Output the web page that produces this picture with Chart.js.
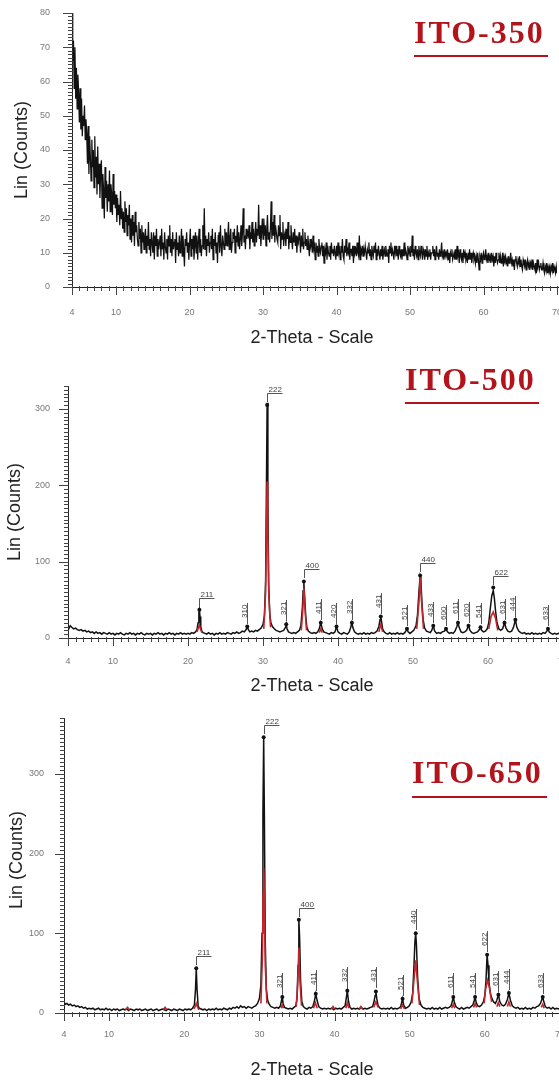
<!DOCTYPE html>
<html>
<head>
<meta charset="utf-8">
<script src="https://cdn.jsdelivr.net/npm/chart.js@4.4.0/dist/chart.umd.min.js"></script>
<style>
  html, body { margin: 0; padding: 0; background: #fff; overflow: hidden; }
  body { width: 559px; height: 1086px; position: relative; }
  canvas { position: absolute; left: 0; }
</style>
</head>
<body>
<canvas id="c350" width="580" height="350" style="top:0px"></canvas>
<canvas id="c500" width="580" height="350" style="top:350px"></canvas>
<canvas id="c650" width="580" height="386" style="top:700px"></canvas>
<script>
// 2-Theta tick labels (same for the three patterns)
const thetaTicks = [4, 10, 20, 30, 40, 50, 60, 70];

// ITO-350 : amorphous film, counts read every 0.1 deg from 4 to 70 (one row per degree)
const ito350Start = 4;
const ito350Step = 0.1;
const ito350Counts = [
  80, 66, 72, 58, 70, 55, 64, 52, 62, 57,
  48, 58, 46, 55, 44, 50, 47, 53, 43, 49,
  45, 36, 47, 33, 44, 38, 31, 43, 35, 40,
  29, 44, 32, 38, 27, 41, 30, 36, 26, 34,
  37, 23, 33, 28, 20, 35, 26, 31, 22, 30,
  25, 34, 22, 30, 27, 21, 33, 24, 28, 23,
  27, 19, 26, 21, 24, 18, 28, 20, 23, 17,
  22, 16, 25, 19, 23, 15, 21, 18, 24, 14,
  20, 13, 21, 15, 19, 12, 22, 16, 18, 14,
  12, 19, 14, 17, 10, 18, 13, 16, 11, 15,
  17, 10, 15, 12, 19, 11, 14, 9, 16, 13,
  10, 16, 8, 15, 12, 17, 9, 14, 11, 13,
  15, 9, 17, 11, 13, 8, 16, 12, 10, 14,
  8, 15, 12, 18, 10, 14, 9, 16, 11, 13,
  14, 7, 16, 11, 13, 9, 15, 10, 12, 17,
  9, 15, 11, 6, 14, 12, 16, 10, 13, 8,
  13, 17, 9, 14, 11, 15, 8, 12, 16, 10,
  15, 8, 13, 17, 10, 14, 9, 12, 18, 11,
  23, 11, 15, 9, 14, 12, 16, 10, 13, 15,
  11, 17, 8, 14, 12, 16, 10, 13, 7, 15,
  16, 10, 18, 12, 9, 15, 13, 11, 17, 12,
  16, 12, 15, 19, 11, 14, 17, 10, 13, 16,
  14, 17, 10, 15, 13, 18, 12, 16, 11, 14,
  18, 12, 16, 23, 13, 15, 11, 17, 14, 16,
  15, 18, 11, 16, 14, 19, 13, 17, 12, 15,
  19, 13, 17, 15, 24, 14, 18, 12, 16, 20,
  14, 20, 15, 18, 12, 17, 21, 14, 16, 13,
  17, 25, 14, 19, 15, 21, 13, 18, 16, 14,
  13, 18, 15, 21, 11, 16, 14, 19, 12, 15,
  16, 12, 17, 14, 19, 11, 15, 13, 18, 14,
  11, 16, 13, 17, 12, 15, 10, 14, 13, 16,
  14, 10, 15, 12, 17, 11, 13, 16, 12, 14,
  11, 15, 12, 9, 14, 12, 13, 10, 15, 11,
  12, 8, 13, 10, 12, 9, 14, 11, 10, 12,
  13, 9, 12, 7, 11, 10, 13, 8, 12, 10,
  9, 12, 8, 13, 10, 11, 9, 12, 10, 8,
  12, 9, 13, 10, 11, 8, 12, 10, 14, 9,
  8, 12, 10, 14, 9, 11, 10, 13, 8, 11,
  11, 9, 12, 7, 12, 10, 11, 9, 13, 10,
  9, 15, 8, 11, 10, 12, 9, 11, 10, 12,
  12, 8, 11, 10, 13, 9, 11, 8, 12, 10,
  9, 12, 10, 13, 8, 11, 9, 12, 10, 8,
  11, 9, 12, 8, 10, 11, 9, 12, 10, 9,
  11, 7, 12, 10, 13, 9, 11, 10, 8, 12,
  10, 12, 9, 11, 8, 12, 10, 9, 11, 8,
  11, 9, 13, 9, 11, 10, 8, 12, 10, 11,
  9, 12, 10, 15, 9, 11, 8, 12, 10, 9,
  11, 8, 12, 10, 9, 12, 10, 8, 11, 10,
  8, 11, 9, 12, 8, 10, 9, 11, 8, 10,
  10, 12, 9, 11, 8, 10, 12, 9, 10, 8,
  11, 9, 10, 13, 9, 10, 8, 11, 9, 10,
  9, 11, 8, 10, 7, 10, 9, 11, 8, 9,
  10, 8, 11, 8, 12, 9, 10, 7, 11, 9,
  8, 10, 7, 11, 9, 10, 8, 9, 7, 10,
  8, 11, 8, 10, 7, 9, 10, 8, 9, 7,
  9, 7, 10, 8, 5, 9, 8, 10, 7, 9,
  10, 8, 9, 11, 8, 9, 7, 10, 8, 9,
  7, 10, 8, 9, 6, 9, 7, 10, 8, 7,
  8, 10, 7, 9, 7, 8, 10, 6, 9, 8,
  9, 7, 8, 6, 9, 7, 8, 10, 7, 8,
  6, 8, 5, 8, 9, 7, 6, 8, 7, 9,
  6, 8, 6, 5, 8, 7, 6, 8, 5, 7,
  8, 6, 7, 5, 7, 6, 8, 5, 7, 6,
  5, 7, 4, 8, 6, 7, 5, 6, 7, 5,
  5, 7, 5, 4, 6, 5, 7, 4, 6, 5,
  6, 4, 6, 5, 7, 4, 6, 5, 4, 6,
  4
];
const ito350YTicks = [0, 10, 20, 30, 40, 50, 60, 70, 80];

// ITO-500 : measured pattern (2theta, counts)
const ito500Black = [
  [4.0,17],[4.15,13],[4.3,16],[4.5,14],[4.75,12],[5.0,13],[5.25,11],[5.5,10],[5.75,11],[6.0,9],
  [6.25,10],[6.5,8],[6.75,9],[7.0,7],[7.25,8],[7.5,6],[7.75,8],[8.0,6],[8.25,7],[8.5,5],
  [8.75,7],[9.0,6],[9.25,5],[9.5,7],[9.75,5],[10.0,6],[10.25,4],[10.5,6],[10.75,5],[11.0,7],
  [11.25,5],[11.5,4],[11.75,6],[12.0,5],[12.25,7],[12.5,5],[12.75,6],[13.0,4],[13.25,6],[13.5,5],
  [13.75,7],[14.0,5],[14.25,4],[14.5,6],[14.75,5],[15.0,6],[15.25,4],[15.5,6],[15.75,5],[16.0,7],
  [16.25,5],[16.5,6],[16.75,4],[17.0,6],[17.25,5],[17.5,7],[17.75,5],[18.0,6],[18.25,4],[18.5,6],
  [18.75,5],[19.0,7],[19.25,5],[19.5,6],[19.75,5],[20.0,6],[20.25,5],[20.5,7],[20.75,6],[21.0,8],
  [21.2,11],[21.35,20],[21.45,33],[21.52,37],[21.6,28],[21.7,15],[21.85,9],[22.0,7],[22.25,6],[22.5,5],
  [22.75,7],[23.0,5],[23.25,6],[23.5,4],[23.75,6],[24.0,5],[24.25,7],[24.5,5],[24.75,6],[25.0,5],
  [25.25,7],[25.5,6],[25.75,5],[26.0,7],[26.25,6],[26.5,8],[26.75,6],[27.0,7],[27.25,9],[27.5,8],
  [27.75,11],[27.9,15],[28.05,11],[28.25,8],[28.5,9],[28.75,8],[29.0,10],[29.25,9],[29.5,11],[29.75,13],
  [30.0,18],[30.2,30],[30.35,75],[30.45,190],[30.55,308],[30.65,180],[30.75,70],[30.9,32],[31.05,20],[31.25,15],
  [31.5,12],[31.75,10],[32.0,9],[32.25,8],[32.5,9],[32.75,10],[33.0,14],[33.1,18],[33.2,12],[33.4,8],
  [33.6,7],[33.85,6],[34.1,7],[34.35,6],[34.6,8],[34.85,10],[35.05,16],[35.25,40],[35.35,62],[35.45,72],
  [35.55,55],[35.7,28],[35.85,14],[36.05,9],[36.3,7],[36.55,6],[36.8,7],[37.05,6],[37.3,8],[37.5,12],
  [37.7,20],[37.9,12],[38.1,8],[38.35,7],[38.6,6],[38.85,5],[39.1,7],[39.35,6],[39.6,8],[39.8,15],
  [40.0,8],[40.25,6],[40.5,5],[40.75,7],[41.0,6],[41.25,5],[41.5,8],[41.7,14],[41.85,20],[42.0,13],
  [42.2,8],[42.45,6],[42.7,5],[42.95,6],[43.2,5],[43.45,7],[43.7,5],[43.95,6],[44.2,5],[44.45,7],
  [44.7,6],[44.95,7],[45.2,9],[45.45,15],[45.6,24],[45.7,28],[45.8,22],[45.95,12],[46.15,8],[46.4,6],
  [46.65,5],[46.9,7],[47.15,5],[47.4,6],[47.65,5],[47.9,7],[48.15,5],[48.4,6],[48.65,5],[48.9,7],
  [49.1,10],[49.2,12],[49.35,8],[49.6,6],[49.85,8],[50.1,10],[50.4,16],[50.6,30],[50.8,62],[50.95,80],
  [51.05,75],[51.2,45],[51.35,24],[51.55,13],[51.8,9],[52.05,8],[52.3,7],[52.5,10],[52.7,16],[52.9,9],
  [53.15,6],[53.4,7],[53.65,6],[53.9,8],[54.2,9],[54.4,12],[54.6,8],[54.85,6],[55.1,7],[55.35,6],
  [55.6,9],[55.85,15],[56.0,20],[56.15,14],[56.4,8],[56.65,7],[56.9,8],[57.15,10],[57.4,16],[57.6,10],
  [57.85,7],[58.1,6],[58.35,7],[58.6,8],[58.85,11],[59.0,14],[59.15,10],[59.4,8],[59.65,9],[59.9,12],
  [60.1,20],[60.3,38],[60.5,55],[60.7,62],[60.85,52],[61.0,36],[61.2,20],[61.45,12],[61.7,10],[61.95,12],
  [62.2,20],[62.4,13],[62.65,9],[62.9,8],[63.15,9],[63.4,14],[63.65,24],[63.85,14],[64.1,9],[64.35,7],
  [64.6,6],[64.85,7],[65.1,5],[65.35,6],[65.6,5],[65.85,7],[66.1,5],[66.35,6],[66.6,5],[66.85,6],
  [67.1,5],[67.35,7],[67.6,6],[67.85,9],[68.0,12],[68.15,8],[68.4,6],[68.65,5],[68.9,6],[69.15,5],
  [69.4,6],[69.65,5],[69.9,6],[70.0,5]
];
// ITO-500 : red reference profile, one list per peak
const ito500Red = [
  [[21.2,8],[21.4,14],[21.52,17],[21.65,12],[21.85,7]],
  [[30.1,12],[30.35,60],[30.47,150],[30.55,205],[30.63,150],[30.78,55],[31.0,14]],
  [[35.1,10],[35.3,35],[35.45,66],[35.6,38],[35.8,10]],
  [[37.5,7],[37.7,12],[37.9,7]],
  [[45.45,8],[45.7,18],[45.95,8]],
  [[50.5,12],[50.8,48],[50.97,80],[51.12,50],[51.4,12]],
  [[60.1,12],[60.4,28],[60.7,34],[61.0,26],[61.3,10]]
];
const ito500PeakPos    = [21.52, 27.9, 30.55, 33.1, 35.45, 37.7, 39.8, 41.85, 45.7, 49.2, 50.95, 52.7, 54.4, 56.0, 57.4, 59.0, 60.7, 62.2, 63.65, 68.0];
const ito500PeakCounts = [37, 15, 305, 18, 74, 20, 15, 20, 28, 12, 82, 16, 12, 20, 16, 14, 66, 20, 24, 12];
const ito500Hkl        = ['211', '310', '222', '321', '400', '411', '420', '332', '431', '521', '440', '433', '600', '611', '620', '541', '622', '631', '444', '633'];
const ito500YTicks = [0, 100, 200, 300];

// ITO-650 : measured pattern (2theta, counts)
const ito650Black = [
  [4.0,13],[4.2,11],[4.4,12],[4.6,10],[4.85,11],[5.1,9],[5.35,10],[5.6,8],[5.85,9],[6.1,7],
  [6.35,8],[6.6,6],[6.85,7],[7.1,5],[7.35,6],[7.6,5],[7.85,6],[8.1,4],[8.35,5],[8.6,6],
  [8.85,4],[9.1,5],[9.35,4],[9.6,6],[9.85,4],[10.1,5],[10.35,3],[10.6,5],[10.85,4],[11.1,5],
  [11.35,3],[11.6,4],[11.85,5],[12.1,4],[12.35,5],[12.6,3],[12.85,5],[13.1,4],[13.35,3],[13.6,5],
  [13.85,4],[14.1,5],[14.35,3],[14.6,4],[14.85,5],[15.1,3],[15.35,4],[15.6,5],[15.85,3],[16.1,4],
  [16.35,5],[16.6,3],[16.85,4],[17.1,5],[17.35,4],[17.6,3],[17.85,5],[18.1,4],[18.35,3],[18.6,5],
  [18.85,4],[19.1,3],[19.35,5],[19.6,4],[19.85,3],[20.1,5],[20.35,4],[20.6,5],[20.85,4],[21.1,6],
  [21.35,10],[21.5,30],[21.6,56],[21.7,30],[21.85,9],[22.0,6],[22.25,5],[22.5,4],[22.75,5],[23.0,3],
  [23.25,5],[23.5,4],[23.75,5],[24.0,4],[24.25,6],[24.5,4],[24.75,5],[25.0,4],[25.25,6],[25.5,5],
  [25.75,4],[26.0,6],[26.25,5],[26.5,7],[26.75,6],[27.0,8],[27.25,6],[27.5,9],[27.75,7],[28.0,8],
  [28.25,6],[28.5,8],[28.75,7],[29.0,6],[29.25,8],[29.5,9],[29.75,12],[30.0,18],[30.2,35],[30.35,100],
  [30.47,250],[30.57,346],[30.67,240],[30.78,90],[30.92,30],[31.1,16],[31.3,11],[31.55,8],[31.8,7],[32.05,6],
  [32.3,7],[32.55,6],[32.8,9],[32.95,16],[33.05,20],[33.15,12],[33.35,7],[33.6,6],[33.85,5],[34.1,6],
  [34.35,5],[34.6,7],[34.85,9],[35.0,18],[35.15,60],[35.25,117],[35.35,95],[35.48,40],[35.65,14],[35.85,8],
  [36.1,6],[36.35,5],[36.6,7],[36.85,6],[37.1,8],[37.3,14],[37.5,24],[37.7,15],[37.9,8],[38.15,6],
  [38.4,5],[38.65,6],[38.9,5],[39.15,6],[39.4,5],[39.65,6],[39.9,4],[40.15,6],[40.4,5],[40.65,6],
  [40.9,5],[41.15,7],[41.4,9],[41.55,18],[41.7,28],[41.85,15],[42.05,7],[42.3,5],[42.55,6],[42.8,5],
  [43.05,6],[43.3,5],[43.55,7],[43.8,5],[44.05,6],[44.3,5],[44.55,6],[44.8,7],[45.05,8],[45.25,14],
  [45.4,22],[45.5,27],[45.62,18],[45.8,9],[46.05,6],[46.3,5],[46.55,6],[46.8,5],[47.05,6],[47.3,5],
  [47.55,7],[47.8,5],[48.05,6],[48.3,5],[48.55,6],[48.8,8],[48.95,14],[49.05,18],[49.2,10],[49.45,6],
  [49.7,7],[49.95,9],[50.2,14],[50.4,25],[50.55,55],[50.7,90],[50.8,100],[50.9,85],[51.05,45],[51.25,18],
  [51.5,10],[51.75,7],[52.0,6],[52.25,5],[52.5,6],[52.75,5],[53.0,7],[53.25,5],[53.5,6],[53.75,5],
  [54.0,7],[54.25,5],[54.5,6],[54.75,7],[55.0,6],[55.25,7],[55.5,9],[55.65,14],[55.8,20],[55.95,13],
  [56.15,8],[56.4,6],[56.65,5],[56.9,7],[57.15,5],[57.4,6],[57.65,7],[57.9,6],[58.15,8],[58.4,10],
  [58.55,14],[58.7,20],[58.85,13],[59.05,9],[59.3,8],[59.55,10],[59.8,14],[60.0,22],[60.15,40],[60.3,73],
  [60.42,60],[60.55,38],[60.75,24],[60.95,18],[61.15,14],[61.4,12],[61.6,16],[61.8,23],[62.0,14],[62.25,10],
  [62.5,9],[62.75,11],[63.0,17],[63.2,25],[63.4,16],[63.65,9],[63.9,7],[64.15,6],[64.4,7],[64.65,5],
  [64.9,6],[65.15,5],[65.4,7],[65.65,5],[65.9,6],[66.15,5],[66.4,7],[66.65,6],[66.9,8],[67.15,9],
  [67.4,12],[67.55,16],[67.7,20],[67.85,14],[68.05,8],[68.3,6],[68.55,7],[68.8,5],[69.05,7],[69.3,5],
  [69.55,6],[69.8,5],[70.0,6]
];
const ito650Red = [
  [[12.2,4],[12.45,7],[12.7,4]],
  [[17.2,4],[17.45,7],[17.7,4]],
  [[21.3,5],[21.5,9],[21.6,12],[21.75,8],[21.95,4]],
  [[30.2,12],[30.4,70],[30.5,150],[30.57,182],[30.65,150],[30.78,60],[31.0,12]],
  [[32.9,6],[33.05,10],[33.2,6]],
  [[34.9,8],[35.1,35],[35.25,82],[35.4,40],[35.6,9]],
  [[37.2,6],[37.45,13],[37.7,6]],
  [[39.6,5],[39.8,8],[40.0,5]],
  [[41.5,6],[41.7,13],[41.9,6]],
  [[43.3,5],[43.5,8],[43.7,5]],
  [[45.2,7],[45.5,14],[45.8,7]],
  [[48.8,5],[49.05,10],[49.3,5]],
  [[50.3,12],[50.6,45],[50.8,66],[51.0,42],[51.3,10]],
  [[55.6,6],[55.8,11],[56.0,6]],
  [[58.5,7],[58.7,12],[58.9,7]],
  [[59.9,12],[60.1,30],[60.35,41],[60.6,32],[60.9,14]],
  [[61.6,8],[61.8,13],[62.0,8]],
  [[63.0,8],[63.2,14],[63.4,8]],
  [[67.5,7],[67.7,11],[67.9,6]]
];
const ito650PeakPos    = [21.6, 30.57, 33.05, 35.25, 37.5, 41.7, 45.5, 49.05, 50.8, 55.8, 58.7, 60.3, 61.8, 63.2, 67.7];
const ito650PeakCounts = [56, 346, 20, 117, 24, 28, 27, 18, 100, 20, 20, 73, 23, 25, 20];
const ito650Hkl        = ['211', '222', '321', '400', '411', '332', '431', '521', '440', '611', '541', '622', '631', '444', '633'];
const ito650YTicks = [0, 100, 200, 300];

// ---------------------------------------------------------------

const TITLE_RED = '#b3141c';

function toPoints(pairs) {
  return pairs.map(p => ({ x: p[0], y: p[1] }));
}

// peak lists joined with a null point so the line breaks between them
function joinSegments(segments) {
  const out = [];
  segments.forEach((seg, i) => {
    if (i > 0) out.push({ x: seg[0][0] - 0.01, y: null });
    seg.forEach(p => out.push({ x: p[0], y: p[1] }));
  });
  return out;
}

// axes, ticks, labels, sample name and hkl indexes
function decorPlugin(cfg) {
  return {
    id: 'decor',
    afterDraw(chart) {
      const ctx = chart.ctx;
      const xs = chart.scales.x, ys = chart.scales.y;
      const a = chart.chartArea;
      ctx.save();

      // axis lines
      ctx.strokeStyle = '#222';
      ctx.lineWidth = 1;
      ctx.beginPath();
      ctx.moveTo(a.left + 0.5, a.top);
      ctx.lineTo(a.left + 0.5, a.bottom + 0.5);
      ctx.lineTo(chart.width, a.bottom + 0.5);
      ctx.stroke();

      // tick marks
      ctx.strokeStyle = '#444';
      ctx.beginPath();
      for (let v = 4; v <= 70; v++) {
        const px = Math.round(xs.getPixelForValue(v)) + 0.5;
        const len = thetaTicks.includes(v) ? 8 : 4;
        ctx.moveTo(px, a.bottom - 1);
        ctx.lineTo(px, a.bottom + len);
      }
      for (let v = 0; v <= ys.max + 0.01; v += cfg.yMinor) {
        const py = Math.round(ys.getPixelForValue(v)) + 0.5;
        const len = cfg.yTicks.includes(v) ? 9 : 4;
        ctx.moveTo(a.left - len, py);
        ctx.lineTo(a.left + 1, py);
      }
      ctx.stroke();

      // tick labels
      ctx.fillStyle = '#777';
      ctx.font = '9px "Liberation Sans", Arial, sans-serif';
      ctx.textAlign = 'center';
      ctx.textBaseline = 'middle';
      thetaTicks.forEach(v => {
        ctx.fillText(String(v), xs.getPixelForValue(v), cfg.xLabelY);
      });
      ctx.textAlign = 'right';
      cfg.yTicks.forEach(v => {
        ctx.fillText(String(v), cfg.yLabelRight, ys.getPixelForValue(v));
      });

      // axis titles
      ctx.fillStyle = '#222';
      ctx.font = '18px "Liberation Sans", Arial, sans-serif';
      ctx.textAlign = 'center';
      ctx.fillText('2-Theta - Scale', cfg.xTitle[0], cfg.xTitle[1]);
      ctx.save();
      ctx.translate(cfg.yTitle[0], cfg.yTitle[1]);
      ctx.rotate(-Math.PI / 2);
      ctx.fillText('Lin (Counts)', 0, 0);
      ctx.restore();

      // sample name with underline
      ctx.fillStyle = TITLE_RED;
      ctx.font = 'bold 32px "Liberation Serif", "Times New Roman", serif';
      ctx.textAlign = 'left';
      ctx.textBaseline = 'alphabetic';
      ctx.letterSpacing = '2px';
      ctx.fillText(cfg.name, cfg.nameX, cfg.nameY);
      ctx.letterSpacing = '0px';
      ctx.fillRect(cfg.line[0], cfg.line[2], cfg.line[1] - cfg.line[0], 2);

      // hkl indexes
      if (cfg.peaks) {
        ctx.strokeStyle = '#555';
        ctx.fillStyle = '#444';
        ctx.font = '8px "Liberation Sans", Arial, sans-serif';
        cfg.peaks.pos.forEach((p, i) => {
          const px = Math.round(xs.getPixelForValue(p)) + 0.5;
          const py = Math.round(ys.getPixelForValue(cfg.peaks.counts[i]));
          const hkl = cfg.peaks.hkl[i];
          ctx.beginPath();
          if (cfg.peaks.flat.includes(hkl)) {
            ctx.moveTo(px, py - 3);
            ctx.lineTo(px, py - 11.5);
            ctx.lineTo(px + 15, py - 11.5);
            ctx.stroke();
            ctx.textAlign = 'left';
            ctx.fillText(hkl, px + 1, py - 13);
          } else {
            ctx.moveTo(px, py - 3);
            ctx.lineTo(px, py - 24);
            ctx.stroke();
            ctx.save();
            ctx.translate(px - 1, py - 9);
            ctx.rotate(-Math.PI / 2);
            ctx.textAlign = 'left';
            ctx.fillText(hkl, 0, 0);
            ctx.restore();
          }
        });
      }
      ctx.restore();
    }
  };
}

function makePanel(id, cfg) {
  new Chart(document.getElementById(id), {
    type: 'line',
    data: { datasets: cfg.datasets },
    options: {
      responsive: false,
      animation: false,
      events: [],
      layout: { padding: cfg.padding },
      plugins: { legend: { display: false }, tooltip: { enabled: false } },
      scales: {
        x: { type: 'linear', min: 4, max: 70, display: false },
        y: { type: 'linear', min: 0, max: cfg.yMax, display: false }
      }
    },
    plugins: [decorPlugin(cfg)]
  });
}

function blackLine(points, width) {
  return { data: points, borderColor: '#111', borderWidth: width, pointRadius: 0, tension: 0, order: 3 };
}
function redLine(points) {
  return { data: points, borderColor: '#c0262b', borderWidth: 1.6, pointRadius: 0, tension: 0, spanGaps: false, order: 2 };
}
function peakDots(pos, counts) {
  return {
    type: 'scatter',
    data: pos.map((p, i) => ({ x: p, y: counts[i] })),
    pointRadius: 2, backgroundColor: '#111', borderWidth: 0, order: 1
  };
}

// ITO-350
makePanel('c350', {
  datasets: [blackLine(ito350Counts.map((c, i) => ({ x: ito350Start + i * ito350Step, y: c })), 1.25)],
  padding: { left: 72, top: 13, right: 23, bottom: 63 },
  yMax: 80, yTicks: ito350YTicks, yMinor: 1, yLabelRight: 50,
  xLabelY: 313, xTitle: [312, 338], yTitle: [22, 150],
  name: 'ITO-350', nameX: 414, nameY: 43, line: [414, 548, 55]
});

// ITO-500
makePanel('c500', {
  datasets: [
    blackLine(toPoints(ito500Black), 1.5),
    redLine(joinSegments(ito500Red)),
    peakDots(ito500PeakPos, ito500PeakCounts)
  ],
  padding: { left: 68, top: 36, right: 17, bottom: 62 },
  yMax: 330, yTicks: ito500YTicks, yMinor: 5, yLabelRight: 50,
  xLabelY: 312, xTitle: [312, 336], yTitle: [15, 162],
  name: 'ITO-500', nameX: 405, nameY: 40, line: [405, 539, 52],
  peaks: { pos: ito500PeakPos, counts: ito500PeakCounts, hkl: ito500Hkl, flat: ['211', '222', '400', '440', '622'] }
});

// ITO-650
makePanel('c650', {
  datasets: [
    blackLine(toPoints(ito650Black), 1.5),
    redLine(joinSegments(ito650Red)),
    peakDots(ito650PeakPos, ito650PeakCounts)
  ],
  padding: { left: 64, top: 18, right: 20, bottom: 73 },
  yMax: 370, yTicks: ito650YTicks, yMinor: 5, yLabelRight: 44,
  xLabelY: 335, xTitle: [312, 370], yTitle: [17, 160],
  name: 'ITO-650', nameX: 412, nameY: 83, line: [412, 547, 96],
  peaks: { pos: ito650PeakPos, counts: ito650PeakCounts, hkl: ito650Hkl, flat: ['211', '222', '400'] }
});
</script>
</body>
</html>
